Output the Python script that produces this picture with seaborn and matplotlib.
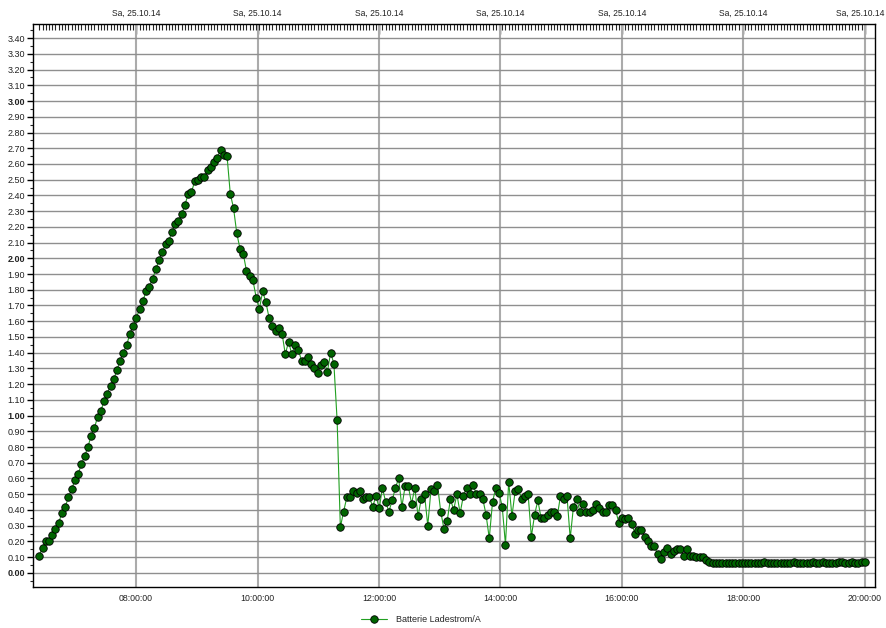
import numpy as np
import pandas as pd
import matplotlib
matplotlib.use("Agg")
import matplotlib.pyplot as plt
import matplotlib.dates as mdates
from matplotlib.ticker import FixedLocator, MultipleLocator, FuncFormatter
import seaborn as sns

series_name = "Batterie Ladestrom/A"
date_label = "Sa, 25.10.14"
start_time = "2014-10-25 06:24:22"
end_time = "2014-10-25 20:00:00"

rise = [0.11, 0.16, 0.20, 0.20, 0.24, 0.28, 0.32, 0.38, 0.42, 0.48,
        0.53, 0.59, 0.63, 0.69, 0.74, 0.80, 0.87, 0.92, 0.99, 1.03,
        1.09, 1.14, 1.19, 1.23, 1.29, 1.35, 1.40, 1.45, 1.52, 1.57,
        1.62, 1.68, 1.73, 1.79, 1.82, 1.87, 1.93, 1.99, 2.04, 2.09,
        2.11, 2.17, 2.22, 2.24, 2.28, 2.34, 2.41, 2.42, 2.49, 2.50,
        2.52, 2.52, 2.56, 2.58, 2.61, 2.64, 2.69, 2.66, 2.65]
fall = [2.41, 2.32, 2.16, 2.06, 2.03, 1.92, 1.89, 1.86, 1.75, 1.68,
        1.79, 1.72, 1.62, 1.57, 1.54, 1.56, 1.52, 1.39, 1.47, 1.39,
        1.45, 1.42, 1.35, 1.35, 1.37, 1.33, 1.30, 1.27, 1.32, 1.34,
        1.28, 1.40, 1.33, 0.97]
plateau = [0.29, 0.39, 0.48, 0.48, 0.52, 0.51, 0.52, 0.47, 0.48, 0.48,
           0.42, 0.49, 0.41, 0.54, 0.45, 0.39, 0.46, 0.54, 0.60, 0.42,
           0.55, 0.55, 0.44, 0.54, 0.36, 0.47, 0.50, 0.30, 0.53, 0.52,
           0.56, 0.39, 0.28, 0.33, 0.47, 0.40, 0.50, 0.38, 0.49, 0.54,
           0.50, 0.56, 0.50, 0.50, 0.47, 0.37, 0.22, 0.45, 0.54, 0.51,
           0.42, 0.18, 0.58, 0.36, 0.52, 0.53, 0.47, 0.49, 0.50, 0.23,
           0.37, 0.46, 0.35, 0.35, 0.37, 0.39, 0.39, 0.36, 0.49, 0.47,
           0.49, 0.22, 0.42, 0.47, 0.39, 0.44, 0.39, 0.39, 0.40, 0.44,
           0.41, 0.39, 0.39, 0.43, 0.43, 0.40]
decline = [0.32, 0.35, 0.34, 0.35, 0.31, 0.25, 0.27, 0.27, 0.23, 0.20,
           0.17, 0.17, 0.12, 0.09, 0.13, 0.16, 0.12, 0.14, 0.15, 0.15,
           0.11, 0.15, 0.11, 0.11, 0.10, 0.10, 0.10, 0.08, 0.07, 0.06]
tail = [0.06, 0.06, 0.06, 0.06, 0.06, 0.06, 0.06, 0.06, 0.06, 0.06,
        0.06, 0.06, 0.06, 0.06, 0.06, 0.07, 0.06, 0.06, 0.06, 0.06,
        0.06, 0.06, 0.06, 0.06, 0.07, 0.06, 0.06, 0.06, 0.06, 0.06,
        0.07, 0.06, 0.06, 0.07, 0.06, 0.06, 0.06, 0.06, 0.07, 0.07,
        0.06, 0.06, 0.07, 0.06, 0.06, 0.07, 0.07]

values = rise + fall + plateau + decline + tail
times = pd.date_range(start_time, end_time, periods=len(values))
df = pd.DataFrame({"Zeit": times, series_name: values})

sns.set_style("white")
plt.rcParams["font.family"] = ["Liberation Sans", "DejaVu Sans"]

fig = plt.figure(figsize=(8.86, 6.28), dpi=100)
ax = fig.add_axes([0.0372, 0.0653, 0.9503, 0.8965])

sns.lineplot(data=df, x="Zeit", y=series_name, ax=ax, color="#22a022",
             lw=0.8, marker="o", markersize=5.4, markerfacecolor="#006400",
             markeredgecolor="black", markeredgewidth=0.6, legend=False,
             zorder=3)

xmax = pd.Timestamp("2014-10-25 20:10:00")
ax.set_xlim(pd.Timestamp("2014-10-25 06:18:07"), xmax)
ax.set_ylim(-0.09, 3.49)
ax.set_xlabel("")
ax.set_ylabel("")

major_loc = mdates.HourLocator(byhour=range(8, 21, 2))
minor_loc = FixedLocator(mdates.date2num(times))
ax.xaxis.set_major_locator(major_loc)
ax.xaxis.set_major_formatter(mdates.DateFormatter("%H:%M:%S"))
ax.xaxis.set_minor_locator(minor_loc)

yt = np.round(np.arange(0, 3.41, 0.1), 2)
ax.set_yticks(yt)
ax.set_yticklabels([f"{v:.2f}" for v in yt])
ax.yaxis.set_minor_locator(MultipleLocator(0.05))
for lbl in ax.get_yticklabels():
    if lbl.get_text() in ("0.00", "1.00", "2.00", "3.00"):
        lbl.set_fontweight("bold")

ax.tick_params(axis="x", which="major", direction="in", length=7, width=1,
               labelsize=6.3, pad=5, colors="black", labelcolor="#222222")
ax.tick_params(axis="x", which="minor", direction="in", length=4, width=0.8,
               color="black")
ax.tick_params(axis="y", which="major", direction="out", length=4, width=1,
               labelsize=6.5, pad=1.5, colors="black", labelcolor="#222222", left=True)
ax.tick_params(axis="y", which="minor", direction="out", length=2, width=0.8, left=True)

last_major = mdates.date2num(pd.Timestamp("2014-10-25 20:00:00"))

def top_fmt(x, p):
    return "" if abs(x - last_major) < 1e-6 else date_label

sec = ax.secondary_xaxis("top")
sec.xaxis.set_major_locator(mdates.HourLocator(byhour=range(8, 21, 2)))
sec.xaxis.set_major_formatter(FuncFormatter(top_fmt))
sec.xaxis.set_minor_locator(FixedLocator(mdates.date2num(times)))
sec.tick_params(axis="x", which="major", direction="in", length=7, width=1,
                labelsize=6.15, pad=4.3, labelcolor="#222222")
sec.tick_params(axis="x", which="minor", direction="in", length=4, width=0.8)
sec.spines["top"].set_visible(False)

# last top label sits flush against the right edge, as in the original
fig.text(884.5 / 886, 1 - 13.5 / 628, date_label, ha="right", va="center",
         fontsize=6.15, color="#222222")

ax.grid(False)
ax.grid(axis="y", which="major", color="#8f8f8f", lw=1.0, zorder=0)
ax.grid(axis="x", which="major", color="#ababab", lw=1.5, zorder=0)

for s in ax.spines.values():
    s.set_visible(True)
    s.set_color("black")
    s.set_linewidth(1.0)

line = ax.get_lines()[0]
fig.legend(handles=[line], labels=[series_name], loc="center",
           bbox_to_anchor=(0.475, 0.013), frameon=False, fontsize=6.5,
           handlelength=2.8, handletextpad=1.0)

fig.savefig("out.png", dpi=100)
